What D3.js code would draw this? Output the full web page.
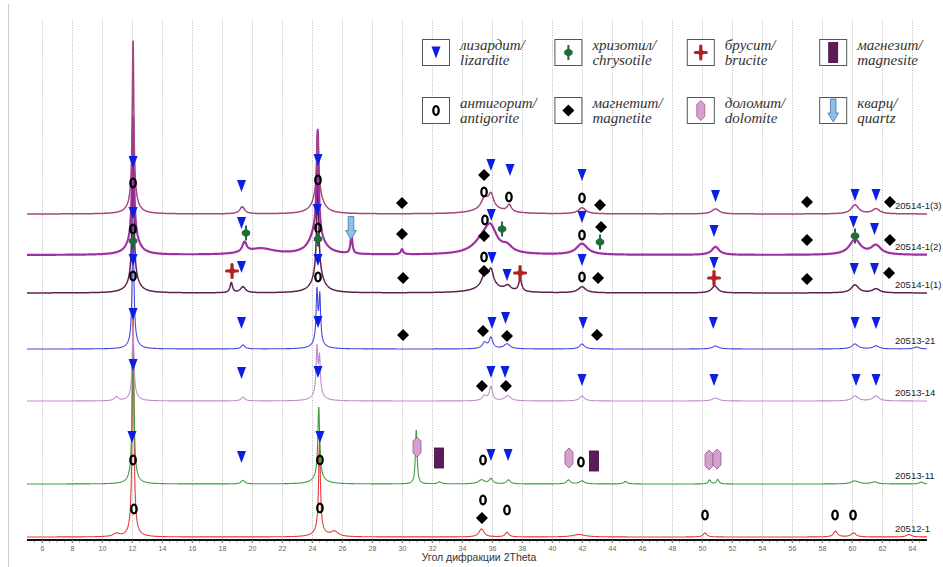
<!DOCTYPE html>
<html>
<head>
<meta charset="utf-8">
<script src="https://cdn.jsdelivr.net/npm/d3@7"></script>
<style>
  body { margin: 0; background: #fff; }
  svg text { font-family: "Liberation Sans", Arial, sans-serif; }
  .legend text { font-family: "Liberation Serif", "Times New Roman", serif; font-style: italic; font-size: 15px; fill: #333; }
  .x-axis text { font-size: 7px; fill: #666; }
  .x-axis .tick line { stroke: #777; }
  .x-axis .domain { stroke: #111; stroke-width: 2; }
  .grid line { stroke: #bbb; stroke-dasharray: 1,1.5; }
  .trace { fill: none; }
  .label { font-size: 9.5px; fill: #222; }
</style>
</head>
<body>
<div id="chart"></div>
<script>
// ---- data ----------------------------------------------------------------
const thetaRange = [5, 65];
const tickLabels = d3.range(6, 65, 2);

const sampleNames = ['20514-1(3)', '20514-1(2)', '20514-1(1)', '20513-21', '20513-14', '20513-11', '20512-1'];
// vertical offset of each pattern (counts)
const baselines = [3260, 2850, 2470, 1910, 1390, 560, 30];

// peaks: [2theta, height (counts), fwhm (deg)]
const peaks20514_3 = [[12.07, 1620, 0.12], [12.1, 150, 0.7], [19.35, 70, 0.4], [24.38, 610, 0.15], [24.4, 200, 0.8],
  [35.5, 100, 0.5], [35.93, 130, 0.4], [35.8, 60, 2.0], [37.15, 70, 0.35], [42.0, 60, 0.6], [50.9, 50, 0.6],
  [60.2, 90, 0.6], [61.6, 50, 0.6]];
const peaks20514_2 = [[12.07, 1200, 0.14], [12.1, 200, 0.8], [19.5, 100, 0.35], [20.6, 60, 2.2], [24.38, 1000, 0.15],
  [24.3, 250, 1.0], [26.63, 190, 0.15], [30.0, 50, 0.2], [35.9, 220, 1.0], [35.4, 120, 1.6], [37.0, 60, 0.8],
  [42.0, 110, 0.9], [50.9, 80, 0.6], [60.2, 150, 0.9], [61.6, 90, 0.8]];
const peaks20514_1 = [[12.07, 1250, 0.14], [12.1, 150, 0.8], [18.62, 100, 0.2], [19.4, 60, 0.4], [24.38, 900, 0.16],
  [24.4, 200, 0.8], [35.5, 110, 0.5], [35.93, 160, 0.4], [35.8, 60, 2.0], [37.05, 50, 0.5], [37.88, 120, 0.25],
  [42.0, 60, 0.6], [50.85, 70, 0.5], [60.2, 80, 0.6], [61.6, 40, 0.6]];
const peaks20513_21 = [[12.07, 1190, 0.13], [12.1, 80, 0.6], [19.4, 40, 0.3], [24.33, 500, 0.13], [24.52, 450, 0.13],
  [24.4, 80, 0.7], [35.5, 60, 0.35], [35.93, 110, 0.3], [37.0, 50, 0.5], [42.0, 50, 0.4], [50.9, 30, 0.5],
  [60.2, 50, 0.5], [61.6, 30, 0.5], [64.3, 20, 0.4]];
const peaks20513_14 = [[10.95, 40, 0.3], [12.07, 700, 0.13], [12.1, 60, 0.6], [19.4, 40, 0.3], [24.33, 450, 0.13],
  [24.5, 350, 0.13], [24.4, 80, 0.7], [35.5, 50, 0.35], [35.93, 140, 0.25], [37.05, 50, 0.5], [42.0, 50, 0.4],
  [50.9, 30, 0.5], [60.2, 50, 0.5], [61.6, 50, 0.5]];
const peaks20513_11 = [[12.07, 1500, 0.13], [12.1, 80, 0.6], [19.4, 35, 0.3], [24.45, 700, 0.14], [24.45, 80, 0.8],
  [30.95, 550, 0.13], [32.5, 20, 0.3], [35.3, 40, 0.5], [35.93, 50, 0.3], [37.1, 40, 0.3], [41.1, 40, 0.3],
  [42.0, 30, 0.4], [44.9, 25, 0.3], [50.5, 40, 0.2], [51.05, 45, 0.2], [60.2, 30, 0.6], [61.5, 20, 0.5], [64.6, 20, 0.3]];
const peaks20512_1 = [[10.95, 30, 0.5], [12.07, 2200, 0.13], [12.1, 60, 0.6], [24.5, 900, 0.14], [24.5, 60, 0.8],
  [25.5, 50, 0.6], [35.3, 80, 0.4], [37.0, 45, 0.3], [41.8, 25, 1.0], [50.2, 40, 0.3], [58.9, 55, 0.35],
  [60.1, 40, 0.4], [63.8, 25, 0.4]];
const peakLists = [peaks20514_3, peaks20514_2, peaks20514_1, peaks20513_21, peaks20513_14, peaks20513_11, peaks20512_1];

// phase markers: [2theta, level (counts)]
const lizarditeMarks = [[12.07, 3780], [19.3, 3540], [24.4, 3800], [35.93, 3750], [37.2, 3700], [42.0, 3650], [50.9, 3440], [60.2, 3450], [61.6, 3450],
  [12.07, 3270], [19.3, 3170], [24.35, 3300], [35.95, 3250], [42.0, 3230], [50.8, 3090], [60.1, 3180], [61.5, 3110],
  [12.07, 2800], [19.3, 2730], [24.4, 2800], [36.0, 2820], [37.0, 2650], [42.0, 2800], [50.8, 2770], [60.15, 2710], [61.5, 2710],
  [12.07, 2260], [19.3, 2170], [24.4, 2180], [36.0, 2170], [36.9, 2220], [42.07, 2170], [50.75, 2170], [60.2, 2170], [61.6, 2170],
  [12.07, 1750], [19.3, 1670], [24.4, 1680], [35.93, 1680], [36.87, 1680], [42.0, 1600], [50.8, 1600], [60.27, 1600], [61.6, 1600],
  [12.0, 1030], [19.3, 830], [24.53, 1030], [35.93, 850], [37.07, 850]];
const antigoriteMarks = [[12.07, 3570], [24.4, 3600], [35.47, 3480], [37.13, 3430], [42.0, 3420],
  [12.07, 3110], [24.4, 3120], [35.53, 3200], [42.0, 3050],
  [12.07, 2640], [24.4, 2630], [35.47, 2830], [42.0, 2630],
  [12.07, 800], [24.53, 800], [35.4, 800], [41.93, 780],
  [12.13, 310], [24.53, 320], [35.4, 400], [37.0, 300], [50.2, 250], [58.87, 250], [60.07, 250]];
const magnetiteMarks = [[30.0, 3370], [35.47, 3650], [43.2, 3350], [57.0, 3380], [62.53, 3380],
  [30.0, 3060], [35.47, 3040], [43.27, 3130], [57.0, 3000], [62.53, 3000],
  [30.07, 2620], [35.47, 2690], [43.07, 2620], [57.0, 2610], [62.47, 2670],
  [30.07, 2050], [35.4, 2090], [37.0, 2040], [43.0, 2050],
  [35.33, 1540], [36.93, 1540],
  [35.33, 220]];
const chrysotileMarks = [[12.07, 2990], [19.6, 3070], [24.4, 3010], [36.67, 3110], [43.2, 2980], [60.2, 3040]];
const bruciteMarks = [[18.67, 2690], [37.87, 2670], [50.8, 2620]];
const quartzMarks = [[26.6, 3120]];
const dolomiteMarks = [[31.0, 930], [41.13, 820], [50.47, 800], [51.0, 810]];
const magnesiteMarks = [[32.47, 820], [42.8, 790]];

const legendNames = [['лизардит/', 'lizardite'], ['хризотил/', 'chrysotile'], ['брусит/', 'brucite'], ['магнезит/', 'magnesite'],
  ['антигорит/', 'antigorite'], ['магнетит/', 'magnetite'], ['доломит/', 'dolomite'], ['кварц/', 'quartz']];
const legendKeys = ['lizardite', 'chrysotile', 'brucite', 'magnesite', 'antigorite', 'magnetite', 'dolomite', 'quartz'];

// ---- chart ---------------------------------------------------------------
const width = 943, height = 567;
const colors = ['#a3457f', '#a02fa3', '#5e2150', '#4646de', '#c48ccb', '#3e9c3e', '#e23c3c'];
const widths = [1.5, 2.2, 1.5, 1.1, 1.1, 1.1, 1.1];

const xScale = d3.scaleLinear().domain(thetaRange).range([27, 927]);
const yScale = d3.scaleLinear().domain([0, 5200]).range([540, 20]);

const svg = d3.select('#chart').append('svg')
  .attr('width', width)
  .attr('height', height);

// frame line at the left
svg.append('line')
  .attr('x1', 8.5).attr('x2', 8.5).attr('y1', 4).attr('y2', height)
  .attr('stroke', '#ccc');

// vertical grid
svg.append('g').attr('class', 'grid')
  .selectAll('line').data(tickLabels).join('line')
  .attr('x1', d => xScale(d) + 0.5).attr('x2', d => xScale(d) + 0.5)
  .attr('y1', 20).attr('y2', 540);

// build each pattern as a sum of peak profiles
const grid = d3.range(thetaRange[0], thetaRange[1] + 0.001, 0.02);
function profile(t, peaks) {
  let s = 0;
  peaks.forEach(([c, h, w]) => {
    const u = (t - c) / (w / 2);
    s += h / (1 + u * u);
  });
  return s;
}

const line = d3.line()
  .x(d => xScale(d[0]))
  .y(d => yScale(d[1]));

const traces = svg.append('g');
d3.range(sampleNames.length - 1, -1, -1).forEach(i => {
  const pts = grid.map(t => [t, baselines[i] + profile(t, peakLists[i])]);
  traces.append('path')
    .attr('class', 'trace')
    .attr('d', line(pts))
    .attr('stroke', colors[i])
    .attr('stroke-width', widths[i])
    .attr('stroke-linejoin', 'round');
});

// sample labels
svg.append('g').selectAll('text').data(sampleNames).join('text')
  .attr('class', 'label')
  .attr('x', xScale(62.87))
  .attr('y', (d, i) => yScale(baselines[i]) - 8)
  .attr('dy', '0.35em')
  .text(d => d);

// marker shapes (centered at 0,0)
function drawMarker(g, type) {
  if (type === 'lizardite') {
    g.append('path').attr('d', 'M-4.5,-6L4.5,-6L0,6Z').attr('fill', '#0c1ee2');
  } else if (type === 'antigorite') {
    g.append('ellipse').attr('rx', 2.7).attr('ry', 4.3)
      .attr('fill', 'none').attr('stroke', '#000').attr('stroke-width', 2.3);
  } else if (type === 'magnetite') {
    g.append('path').attr('d', 'M0,-6L6,0L0,6L-6,0Z').attr('fill', '#000');
  } else if (type === 'chrysotile') {
    g.append('rect').attr('x', -1).attr('y', -7.5).attr('width', 2).attr('height', 15).attr('fill', '#1f6b3b');
    g.append('path').attr('d', 'M0,-4.5L4.2,-1.5L4.2,1.5L0,4.5L-4.2,1.5L-4.2,-1.5Z').attr('fill', '#1f6b3b');
  } else if (type === 'brucite') {
    g.append('rect').attr('x', -7).attr('y', -1.6).attr('width', 14).attr('height', 3.2).attr('rx', 1.5).attr('fill', '#b0211f');
    g.append('rect').attr('x', -1.6).attr('y', -8).attr('width', 3.2).attr('height', 16).attr('rx', 1.5).attr('fill', '#b0211f');
    g.append('path').attr('d', 'M0,-4L4,0L0,4L-4,0Z').attr('fill', '#b0211f');
  } else if (type === 'magnesite') {
    g.append('rect').attr('x', -4.5).attr('y', -10).attr('width', 9).attr('height', 20)
      .attr('fill', '#5d1b5b').attr('stroke', '#3b0c39').attr('stroke-width', 0.8);
  } else if (type === 'dolomite') {
    g.append('path').attr('d', 'M0,-10L4,-6L4,6L0,10L-4,6L-4,-6Z')
      .attr('fill', '#d5a0cd').attr('stroke', '#9a5a90').attr('stroke-width', 0.8);
  } else if (type === 'quartz') {
    g.append('path').attr('d', 'M-2.8,-11.5H2.8V2.5H5.3L0,11.5L-5.3,2.5H-2.8Z')
      .attr('fill', '#90bfe6').attr('stroke', '#4c7fb0').attr('stroke-width', 0.9);
  }
}

const markerSets = [
  ['lizardite', lizarditeMarks], ['antigorite', antigoriteMarks], ['magnetite', magnetiteMarks],
  ['chrysotile', chrysotileMarks], ['brucite', bruciteMarks], ['quartz', quartzMarks],
  ['dolomite', dolomiteMarks], ['magnesite', magnesiteMarks]
];
const markLayer = svg.append('g');
markerSets.forEach(([type, list]) => {
  list.forEach(d => {
    const g = markLayer.append('g')
      .attr('transform', `translate(${xScale(d[0])},${yScale(d[1])})`);
    drawMarker(g, type);
  });
});

// x axis
const xAxis = d3.axisBottom(xScale)
  .tickValues(tickLabels)
  .tickSize(3)
  .tickPadding(3)
  .tickFormat(d3.format('d'));
const xAxisG = svg.append('g')
  .attr('class', 'x-axis')
  .attr('transform', 'translate(0,540)')
  .call(xAxis);
xAxisG.select('.domain').attr('d', `M${xScale(thetaRange[0])},0H${xScale(thetaRange[1])}`);

// minor ticks
svg.append('g').selectAll('line').data(d3.range(5.5, 65, 0.5)).join('line')
  .attr('x1', d => xScale(d)).attr('x2', d => xScale(d))
  .attr('y1', 541).attr('y2', 543)
  .attr('stroke', '#999').attr('stroke-width', 0.7);

svg.append('text')
  .attr('x', 479).attr('y', 561)
  .attr('text-anchor', 'middle')
  .attr('font-size', 10.5)
  .attr('fill', '#333')
  .text('Угол дифракции 2Theta');

// legend
const legend = svg.append('g').attr('class', 'legend');
legendKeys.forEach((key, i) => {
  const col = i % 4, row = Math.floor(i / 4);
  const bx = 422 + col * 132.4, by = 39 + row * 58;
  const item = legend.append('g').attr('transform', `translate(${bx},${by})`);
  item.append('rect')
    .attr('x', 0.5).attr('y', 0.5).attr('width', 27).attr('height', 26)
    .attr('fill', '#fff').attr('stroke', '#555').attr('stroke-width', 1);
  drawMarker(item.append('g').attr('transform', 'translate(14,13.5)'), key);
  item.append('text').attr('x', 38).attr('y', 11).text(legendNames[i][0]);
  item.append('text').attr('x', 38).attr('y', 25.5).text(legendNames[i][1]);
});
</script>
</body>
</html>
